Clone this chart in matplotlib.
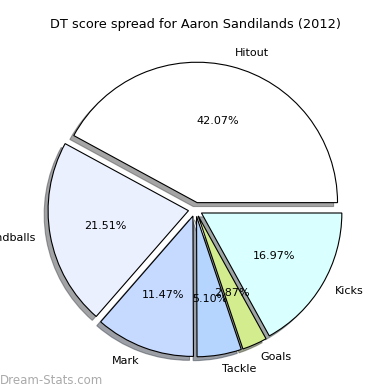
import matplotlib
matplotlib.use("Agg")
import matplotlib.pyplot as plt

labels = ["Hitout", "Handballs", "Mark", "Tackle", "Goals", "Kicks"]
shares = [42.07, 21.51, 11.47, 5.10, 2.87, 16.97]
colors = ["#ffffff", "#ebf0ff", "#c6d9ff", "#b5d5ff", "#d2ec8e", "#d9ffff"]
title = "DT score spread for Aaron Sandilands (2012)"


def main():
    fig = plt.figure(figsize=(3.9, 3.9), dpi=100)
    ax = fig.add_axes([0.051, 0.013, 0.9, 0.9])

    ax.pie(shares, labels=labels, colors=colors, explode=[0.05] * len(shares),
           autopct="%1.2f%%", startangle=0, shadow=True,
           wedgeprops={"edgecolor": "black", "linewidth": 0.8},
           textprops={"fontsize": 8})
    ax.set_aspect("equal")

    fig.text(0.5, 0.937, title, ha="center", va="center", fontsize=9.25)
    fig.text(0.0, 0.025, "Dream-Stats.com", ha="left", va="center",
             fontsize=8.5, color="#aaaaaa")

    fig.savefig("out.png", dpi=100)
    plt.close(fig)


if __name__ == "__main__":
    main()
